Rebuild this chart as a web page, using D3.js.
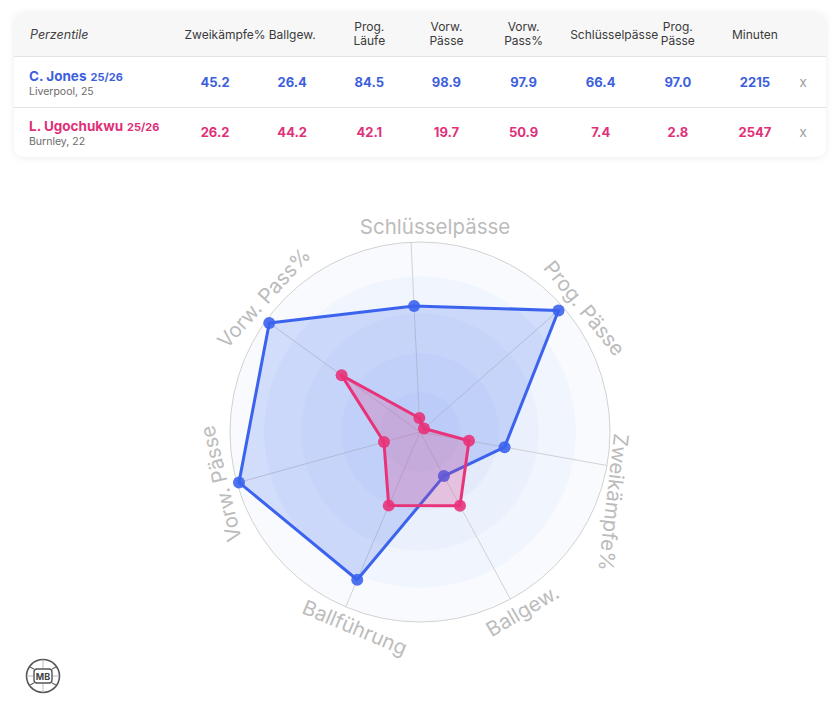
<!DOCTYPE html>
<html><head><meta charset="utf-8">
<script src="https://cdn.jsdelivr.net/npm/d3@7"></script>
<style>
html,body{margin:0;padding:0;background:#fff;}
svg{display:block;font-family:Inter,"Noto Sans",sans-serif;}
</style></head>
<body>
<svg id="chart" width="838" height="709"></svg>
<script>
// ---- data ----
const tableColumns = ["Zweikämpfe%","Ballgew.","Prog. Läufe","Vorw. Pässe","Vorw. Pass%","Schlüsselpässe","Prog. Pässe","Minuten"];
const players = ["C. Jones","L. Ugochukwu"];
const seasons = ["25/26","25/26"];
const clubs = ["Liverpool, 25","Burnley, 22"];
const jonesValues = [45.2, 26.4, 84.5, 98.9, 97.9, 66.4, 97.0, 2215];
const ugochukwuValues = [26.2, 44.2, 42.1, 19.7, 50.9, 7.4, 2.8, 2547];
const radarAxes = ["Schlüsselpässe","Prog. Pässe","Zweikämpfe%","Ballgew.","Ballführung","Vorw. Pässe","Vorw. Pass%"];
const jonesRadar = [66.4, 97.0, 45.2, 26.4, 84.5, 98.9, 97.9];
const ugochukwuRadar = [7.4, 2.8, 26.2, 44.2, 42.1, 19.7, 50.9];
const ringLevels = [21, 41.5, 62.5, 82, 100];

// layout tweaks for axis labels (degrees relative to each axis)
const labelPosOffset = [6.9, 4.3, 9.8, -1.4, -4.6, 1.0, 4.8];
const labelRotOffset = [2.7, 2.2, -3.6, -2.0, -0.3, 1.9, 6.4];

const colors = {blue:"#3b63ee", blueText:"#3d5fdc", pink:"#e8337a", pinkText:"#e0307a"};

const svg = d3.select("#chart");
const defs = svg.append("defs");
const f = defs.append("filter").attr("id","shadow").attr("x","-5%").attr("y","-20%").attr("width","110%").attr("height","150%");
f.append("feDropShadow").attr("dx",0).attr("dy",1).attr("stdDeviation",3).attr("flood-color","#000").attr("flood-opacity",0.08);

// ---- table card ----
const card = {x:14, y:12, w:812, h:145};
defs.append("clipPath").attr("id","cardclip").append("rect")
  .attr("x",card.x).attr("y",card.y).attr("width",card.w).attr("height",card.h).attr("rx",10);
svg.append("rect").attr("x",card.x).attr("y",card.y).attr("width",card.w).attr("height",card.h)
  .attr("rx",10).attr("fill","#fff").attr("filter","url(#shadow)");
const cg = svg.append("g").attr("clip-path","url(#cardclip)");
cg.append("rect").attr("x",card.x).attr("y",card.y).attr("width",card.w).attr("height",44).attr("fill","#f7f7f7");
cg.append("line").attr("x1",card.x).attr("x2",card.x+card.w).attr("y1",56.5).attr("y2",56.5).attr("stroke","#e3e3e3");
cg.append("line").attr("x1",card.x).attr("x2",card.x+card.w).attr("y1",107.5).attr("y2",107.5).attr("stroke","#e3e3e3");

const xCol = d3.scaleBand().domain(tableColumns).range([176.5, 793.5]);
svg.append("text").attr("x",30).attr("y",39).attr("font-size",12.5).attr("font-style","italic")
  .attr("fill","#444").text("Perzentile");

tableColumns.forEach(c => {
  const cx = xCol(c) + xCol.bandwidth()/2;
  const parts = c.includes(". ") ? [c.slice(0, c.indexOf(". ")+1), c.slice(c.indexOf(". ")+2)] : [c];
  const t = svg.append("text").attr("font-size",12).attr("fill","#3a3a3a").attr("text-anchor","middle");
  if (parts.length === 2) {
    t.append("tspan").attr("x",cx).attr("y",31).text(parts[0]);
    t.append("tspan").attr("x",cx).attr("y",45).text(parts[1]);
  } else {
    t.attr("x",cx).attr("y",39).text(parts[0]);
    const w = t.node().getComputedTextLength();
    if (w > xCol.bandwidth() - 16) t.attr("text-anchor","start").attr("x", xCol(c) + 8);
  }
});

const rows = [
  {name:players[0], season:seasons[0], club:clubs[0], vals:jonesValues, color:colors.blueText, y:81},
  {name:players[1], season:seasons[1], club:clubs[1], vals:ugochukwuValues, color:colors.pinkText, y:131}
];
rows.forEach(r => {
  const t = svg.append("text").attr("x",29).attr("y",r.y).attr("fill",r.color).attr("font-weight",700);
  t.append("tspan").attr("font-size",13.5).text(r.name);
  t.append("tspan").attr("font-size",11).attr("dx",4).text(r.season);
  svg.append("text").attr("x",29).attr("y",r.y+13.5).attr("font-size",10.5).attr("fill","#6b6b6b").text(r.club);
  tableColumns.forEach((c,i) => {
    const v = r.vals[i];
    svg.append("text").attr("x", xCol(c)+xCol.bandwidth()/2).attr("y", r.y+6)
      .attr("text-anchor","middle").attr("font-size",13).attr("font-weight",700).attr("fill",r.color)
      .text(c === "Minuten" ? d3.format("d")(v) : d3.format(".1f")(v));
  });
  svg.append("text").attr("x",803).attr("y",r.y+6).attr("text-anchor","middle").attr("font-size",14)
    .attr("fill","#a0a0a0").text("x");
});

// ---- radar ----
const cx = 420, cy = 432, R = 190;
const rScale = d3.scaleLinear().domain([0,100]).range([0,R]);
const startDeg = -2.7;
const angle = d3.scaleLinear().domain([0, radarAxes.length]).range([startDeg*Math.PI/180, startDeg*Math.PI/180 + 2*Math.PI]);
const rg = svg.append("g").attr("transform",`translate(${cx},${cy})`);

ringLevels.slice().reverse().forEach(lv => {
  rg.append("circle").attr("r", rScale(lv)).attr("fill","#4a86e8").attr("fill-opacity",0.038);
});
rg.append("circle").attr("r",R).attr("fill","none").attr("stroke","#d2d2d2").attr("stroke-width",1);
radarAxes.forEach((a,i) => {
  const t = angle(i);
  rg.append("line").attr("x1",0).attr("y1",0)
    .attr("x2", R*Math.sin(t)).attr("y2", -R*Math.cos(t))
    .attr("stroke","#c8c8c8").attr("stroke-width",0.8);
});

// straight axis labels, rotated along the circle
const labelR = 206;
radarAxes.forEach((a,i) => {
  const axDeg = angle(i)*180/Math.PI;
  const posDeg = axDeg + labelPosOffset[i];
  const rotDeg = axDeg + labelRotOffset[i];
  const pr = posDeg*Math.PI/180;
  const norm = ((rotDeg + 540) % 360) - 180;
  const upright = Math.abs(norm) < 125 ? rotDeg : rotDeg - 180;
  rg.append("text")
    .attr("transform", `translate(${labelR*Math.sin(pr)},${-labelR*Math.cos(pr)}) rotate(${upright})`)
    .attr("text-anchor","middle").attr("dy","0.36em")
    .attr("font-size",20.5).attr("fill","#bcbcbc").text(a);
});

const line = d3.lineRadial().angle((d,i)=>angle(i)).radius(d=>rScale(d)).curve(d3.curveLinearClosed);
[{vals:jonesRadar, col:colors.blue, op:0.2},{vals:ugochukwuRadar, col:colors.pink, op:0.22}].forEach(s => {
  rg.append("path").attr("d", line(s.vals)).attr("fill", s.col).attr("fill-opacity", s.op)
    .attr("stroke", s.col).attr("stroke-width", 3).attr("stroke-linejoin","round");
  rg.selectAll(null).data(s.vals).join("circle")
    .attr("cx",(d,i)=>rScale(d)*Math.sin(angle(i)))
    .attr("cy",(d,i)=>-rScale(d)*Math.cos(angle(i)))
    .attr("r",6).attr("fill",s.col).attr("fill-opacity",0.9);
});

// ---- logo ----
const lg = svg.append("g").attr("transform","translate(43,676)");
lg.append("circle").attr("r",16.5).attr("fill","#fff").attr("stroke","#555").attr("stroke-width",1.6);
[[0,-16.5,0,-7],[0,16.5,0,7],[-16.5,0,-9,0],[16.5,0,9,0]].forEach(l=>
  lg.append("line").attr("x1",l[0]).attr("y1",l[1]).attr("x2",l[2]).attr("y2",l[3]).attr("stroke","#aab").attr("stroke-width",0.8));
lg.append("path").attr("d","M-13,-9 L-9,-7 M13,-9 L9,-7 M-13,9 L-9,7 M13,9 L9,7").attr("stroke","#666").attr("stroke-width",1.2);
lg.append("rect").attr("x",-9).attr("y",-7).attr("width",18).attr("height",14).attr("rx",3)
  .attr("fill","#fff").attr("stroke","#555").attr("stroke-width",1.4);
lg.append("text").attr("text-anchor","middle").attr("y",3.5).attr("font-size",9).attr("font-weight",700)
  .attr("fill","#444").text("MB");
</script>
</body></html>
